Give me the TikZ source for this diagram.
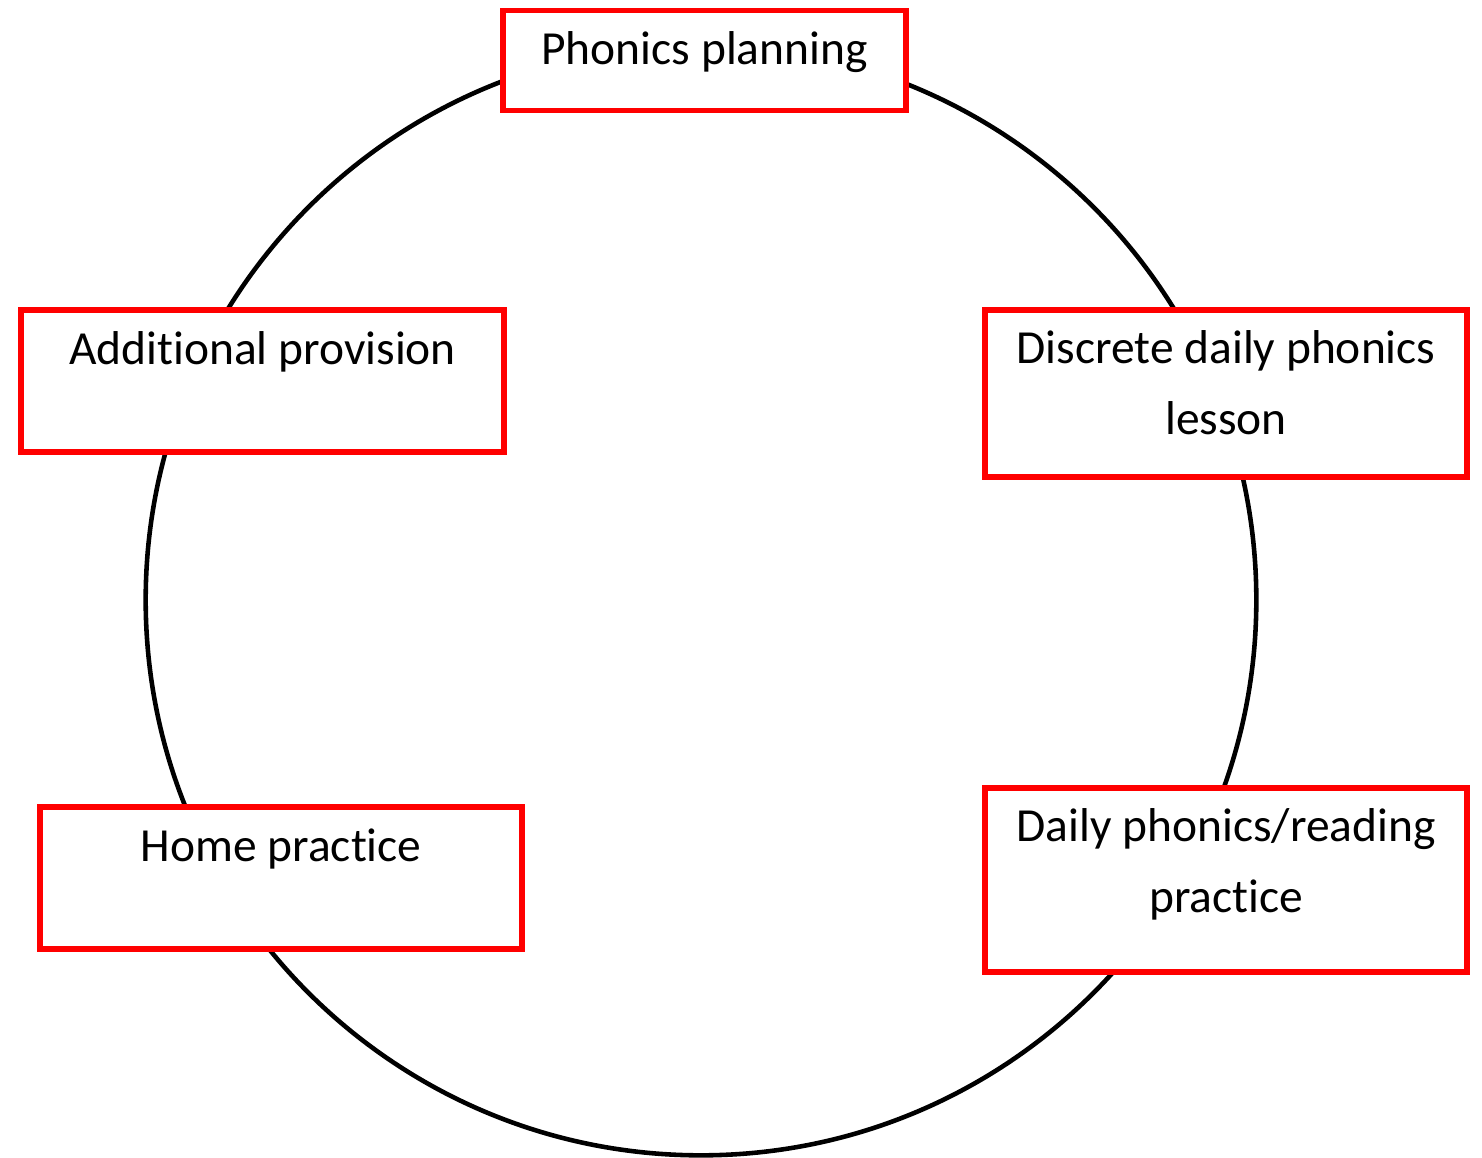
\documentclass[tikz,border=0pt]{standalone}
\usepackage{fontspec}
\setmainfont[Ligatures=NoCommon]{Carlito}
\usepackage{tikz}
\definecolor{boxred}{RGB}{255,0,0}

\begin{document}
\begin{tikzpicture}[x=0.01cm, y=-0.01cm,
  box/.style={draw=boxred, line width=1.6pt, fill=white, inner sep=0pt, outer sep=0pt, anchor=north west,
    align=center, text height=0.54cm, font=\fontsize{13.5}{20}\selectfont},
  twoline/.style={text height=1.24cm}]
  \useasboundingbox (0,0) rectangle (1482,1157);
  \node[draw, circle, line width=1.3pt, minimum size=11.1cm] (ring) at (701,600) {};
  \node[box, minimum width=4.03cm, text depth=0.46cm] (plan) at (503,10.5) {Phonics planning};
  \node[box, minimum width=4.83cm, text depth=0.88cm] (extra) at (21,310) {Additional provision};
  \node[box, twoline, minimum width=4.82cm, text depth=0.43cm] (lesson) at (985,310) {Discrete daily phonics\\ lesson};
  \node[box, minimum width=4.82cm, text depth=0.88cm] (home) at (40,807) {Home practice};
  \node[box, twoline, minimum width=4.82cm, text depth=0.60cm] (daily) at (985,788) {Daily phonics/reading\\ practice};
\end{tikzpicture}
\end{document}
